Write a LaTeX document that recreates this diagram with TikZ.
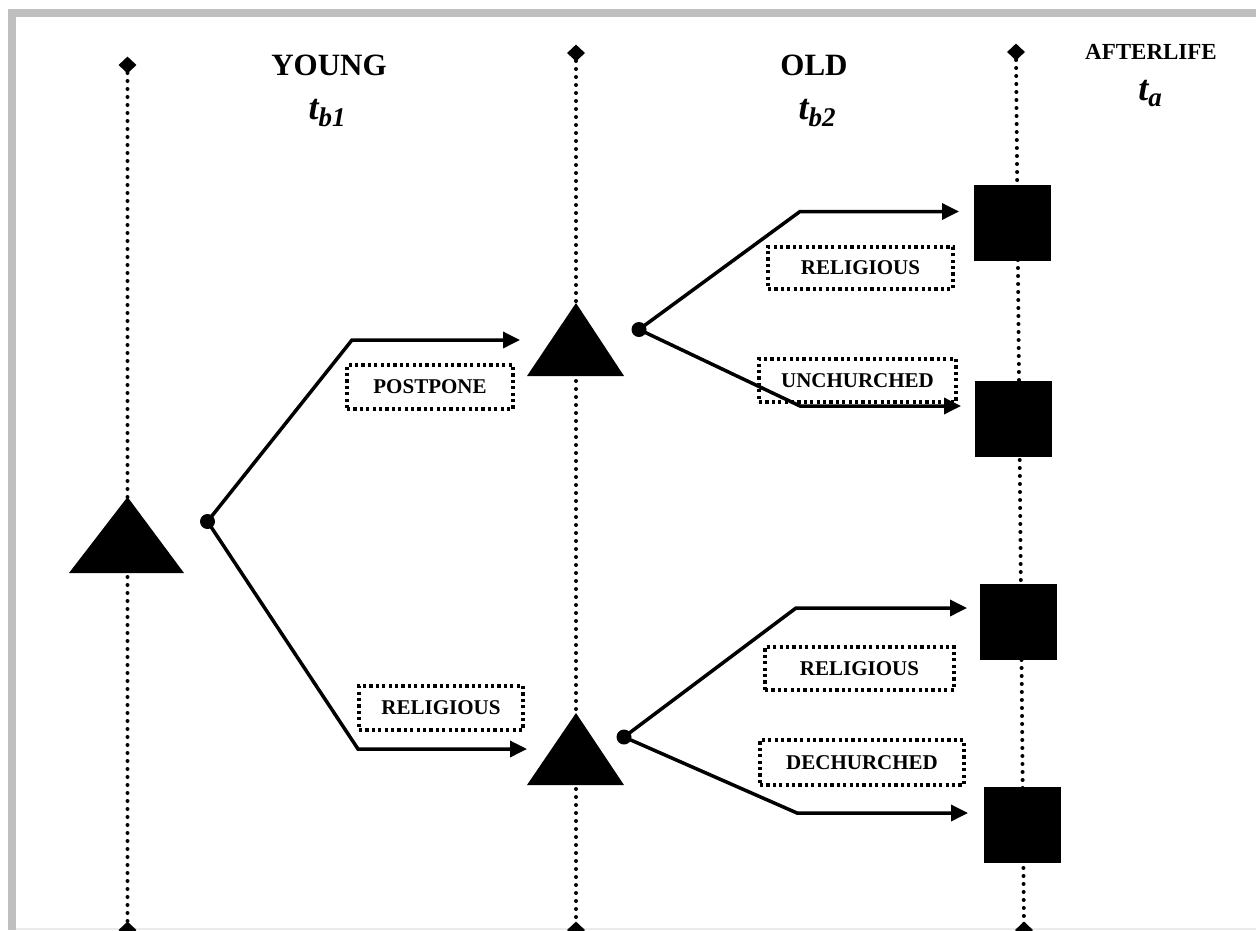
\documentclass[tikz,border=0pt]{standalone}
\usepackage{fontspec}
\setmainfont{Liberation Serif}
\usetikzlibrary{arrows.meta,shapes.geometric}
\begin{document}
\begin{tikzpicture}[x=1pt,y=-1pt,
  dotline/.style={line width=4pt, line cap=round, dash pattern=on 0pt off 8pt},
  diam/.style={diamond, fill=black, minimum width=18pt, minimum height=17pt, inner sep=0pt, aspect=1.05},
  bdot/.style={circle, fill=black, minimum size=15pt, inner sep=0pt},
  conn/.style={line width=3.5pt, line join=miter},
  arr/.style={conn, -{Triangle[length=17pt,width=16pt]}},
  lbl/.style={draw, line width=3.5pt, dash pattern=on 3.2pt off 3.2pt, font=\fontsize{21}{24}\selectfont\bfseries, inner sep=0pt},
  sq/.style={fill=black, minimum width=77pt, minimum height=76pt, inner sep=0pt},
  head/.style={font=\fontsize{31}{36}\selectfont\bfseries, inner sep=0pt, anchor=base},
  tlab/.style={font=\fontsize{36}{40}\selectfont\bfseries\itshape, inner sep=0pt, anchor=base},
  tri/.style={fill=black}
]
\useasboundingbox (0,0) rectangle (1256,930);
\clip (0,0) rectangle (1256,930);
% frame
\fill[black!25] (8,9) rectangle (16,930);
\fill[black!25] (8,9) rectangle (1256,17);
\fill[black!8] (16,928) rectangle (1256,930);

% time lines
\node[diam] (dt1) at (127.5,65) {};
\node[diam] (db1) at (127.5,930) {};
\node[diam] (dt2) at (576,53) {};
\node[diam] (db2) at (576,930) {};
\node[diam] (dt3) at (1016,52) {};
\node[diam] (db3) at (1024,930) {};
\draw[dotline] (dt1.center) -- (db1.center);
\draw[dotline] (dt2.center) -- (db2.center);
\draw[dotline] (dt3.center) -- (db3.center);

% headings
\node[head] (young) at (329,75) {YOUNG};
\node[tlab] (tb1) at (327,119) {t\raisebox{-7pt}{\fontsize{27}{30}\selectfont b1}};
\node[head] (old) at (814,75) {OLD};
\node[tlab] (tb2) at (817,119) {t\raisebox{-7pt}{\fontsize{27}{30}\selectfont b2}};
\node[head, font=\fontsize{23}{28}\selectfont\bfseries] (after) at (1151,59) {AFTERLIFE};
\node[tlab] (ta) at (1150,100) {t\raisebox{-6pt}{\fontsize{27}{30}\selectfont a}};

% triangles (decision points)
\fill[tri] (69,573) -- (127.5,497) -- (184,573) -- cycle;
\fill[tri] (527,376) -- (576,303) -- (624,376) -- cycle;
\fill[tri] (527,785) -- (576,713) -- (624,785) -- cycle;
\coordinate (T0) at (127.5,540);
\coordinate (T1) at (576,345);
\coordinate (T2) at (576,755);

% outcome squares
\node[sq] (S1) at (1012,223) {};
\node[sq] (S2) at (1013.5,419) {};
\node[sq] (S3) at (1018,621.5) {};
\node[sq] (S4) at (1022.5,824.5) {};

% branch dots
\node[bdot] (d1) at (207.5,521.5) {};
\node[bdot] (d2) at (639,329.5) {};
\node[bdot] (d3) at (624,737) {};

% bend points and arrow ends
\coordinate (b1) at (352,340);
\coordinate (e1) at (520,340);
\coordinate (b2) at (358,749);
\coordinate (e2) at (527,749);
\coordinate (b3) at (800,211.5);
\coordinate (e3) at (959,211.5);
\coordinate (b4) at (800,406);
\coordinate (e4) at (961,406);
\coordinate (b5) at (796,608);
\coordinate (e5) at (967,608);
\coordinate (b6) at (797,813);
\coordinate (e6) at (968,813);

\draw[arr] (d1.center) -- (b1) -- (e1);
\draw[arr] (d1.center) -- (b2) -- (e2);
\draw[arr] (d2.center) -- (b3) -- (e3);
\draw[arr] (d2.center) -- (b4) -- (e4);
\draw[arr] (d3.center) -- (b5) -- (e5);
\draw[arr] (d3.center) -- (b6) -- (e6);

% labels
\node[lbl, minimum width=166pt, minimum height=44pt] (l1) at (430,387) {POSTPONE};
\node[lbl, minimum width=164pt, minimum height=44pt] (l2) at (441,708) {RELIGIOUS};
\node[lbl, minimum width=185pt, minimum height=42pt] (l3) at (860.5,268) {RELIGIOUS};
\node[lbl, minimum width=197pt, minimum height=43pt] (l4) at (857.5,380.5) {UNCHURCHED};
\node[lbl, minimum width=189pt, minimum height=43pt] (l5) at (859.5,668.5) {RELIGIOUS};
\node[lbl, minimum width=204pt, minimum height=45pt] (l6) at (862,762.5) {DECHURCHED};
\end{tikzpicture}
\end{document}
